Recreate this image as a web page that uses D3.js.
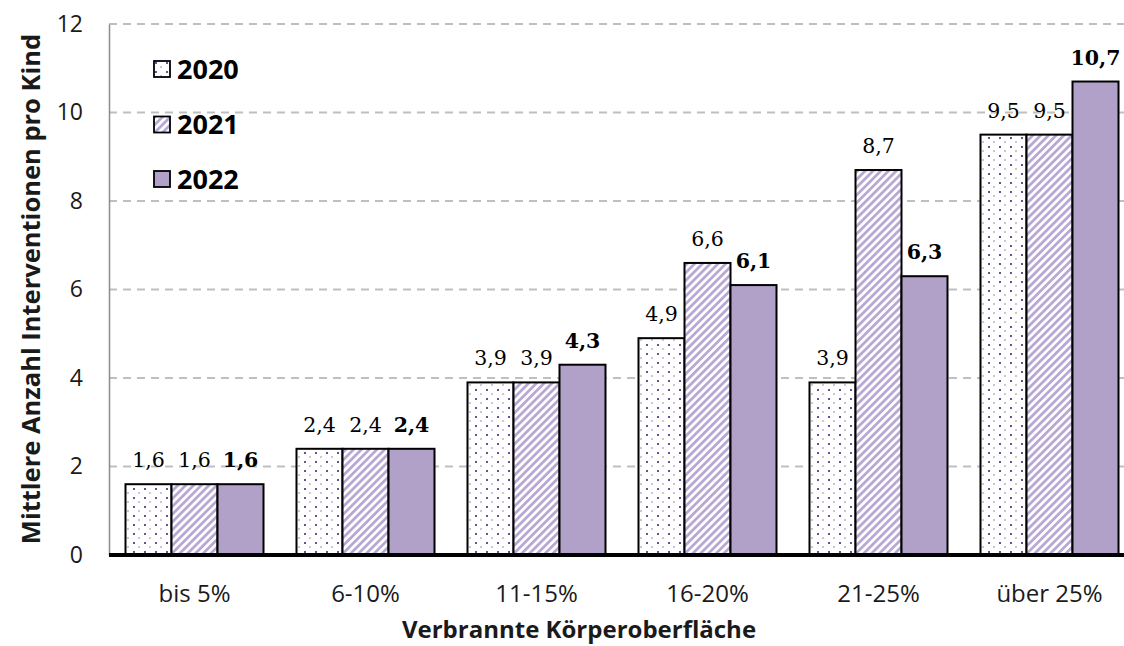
<!DOCTYPE html>
<html>
<head>
<meta charset="utf-8">
<script src="https://cdn.jsdelivr.net/npm/d3@7"></script>
<style>
  html, body { margin: 0; padding: 0; background: #fff; }
  svg { display: block; }
</style>
</head>
<body>
<svg id="chart" width="1124" height="646"></svg>
<script>
// Kategorien: verbrannte Körperoberfläche
const categories = ["bis 5%", "6-10%", "11-15%", "16-20%", "21-25%", "über 25%"];
const years = ["2020", "2021", "2022"];
// Mittlere Anzahl Interventionen pro Kind
const values2020 = [1.6, 2.4, 3.9, 4.9, 3.9, 9.5];
const values2021 = [1.6, 2.4, 3.9, 6.6, 8.7, 9.5];
const values2022 = [1.6, 2.4, 4.3, 6.1, 6.3, 10.7];
const yTicks = [0, 2, 4, 6, 8, 10, 12];

const seriesValues = [values2020, values2021, values2022];
const fmt = v => String(v).replace(".", ",");

const svg = d3.select("#chart");
const W = 1124, H = 646;
const left = 109, baseY = 555, topY = 24;

const sans = "'Open Sans', sans-serif";
const serif = "'DejaVu Serif', serif";

// Füllmuster
const defs = svg.append("defs");
const dots = defs.append("pattern")
  .attr("id", "pat2020").attr("patternUnits", "userSpaceOnUse")
  .attr("width", 11).attr("height", 9);
dots.append("rect").attr("width", 11).attr("height", 9).attr("fill", "#fff");
dots.append("rect").attr("x", 2).attr("y", 2).attr("width", 2).attr("height", 2).attr("fill", "#6a4f92");
dots.append("rect").attr("x", 7).attr("y", 6.5).attr("width", 2).attr("height", 1).attr("fill", "#9a88bb");

const stripes = defs.append("pattern")
  .attr("id", "pat2021").attr("patternUnits", "userSpaceOnUse")
  .attr("width", 5.5).attr("height", 5.5)
  .attr("patternTransform", "rotate(45)");
stripes.append("rect").attr("width", 5.5).attr("height", 5.5).attr("fill", "#fff");
stripes.append("rect").attr("width", 2.8).attr("height", 5.5).attr("fill", "#b8a8d4");

const fills = ["url(#pat2020)", "url(#pat2021)", "#b1a0c7"];

// Skalen
const x = d3.scaleBand().domain(categories).range([left, left + 6 * 171]).padding(0);
const xs = d3.scaleBand().domain(years).range([16.5, 171 - 16.5]).padding(0);
const y = d3.scaleLinear().domain([0, 12]).range([baseY, topY]);

// Gitterlinien
svg.append("g").selectAll("line").data(yTicks.filter(t => t > 0)).join("line")
  .attr("x1", left).attr("x2", W)
  .attr("y1", d => y(d)).attr("y2", d => y(d))
  .attr("stroke", "#bfbfbf").attr("stroke-width", 2)
  .attr("stroke-dasharray", "8,6");

// y-Achse
const yAxis = d3.axisLeft(y).tickValues(yTicks).tickSize(0).tickPadding(26).tickFormat(d3.format("d"));
const gy = svg.append("g").attr("transform", `translate(${left},0)`).call(yAxis);
gy.select(".domain").attr("stroke", "#8c8c8c").attr("stroke-width", 1.5);
gy.selectAll("text").attr("font-family", sans).attr("font-size", 23).attr("fill", "#1a1a1a");

// Balken
const groups = svg.append("g").selectAll("g").data(categories).join("g")
  .attr("transform", d => `translate(${x(d)},0)`);

groups.each(function(cat, ci) {
  const g = d3.select(this);
  years.forEach((yr, si) => {
    const v = seriesValues[si][ci];
    g.append("rect")
      .attr("x", xs(yr)).attr("width", xs.bandwidth())
      .attr("y", y(v)).attr("height", baseY - y(v))
      .attr("fill", fills[si]).attr("stroke", "#000").attr("stroke-width", 2);
    g.append("text")
      .attr("x", xs(yr) + xs.bandwidth() / 2)
      .attr("y", y(v) - 17)
      .attr("text-anchor", "middle")
      .attr("font-family", serif)
      .attr("font-size", 20.5)
      .attr("font-weight", si === 2 ? "bold" : "normal")
      .attr("fill", "#000")
      .text(fmt(v));
  });
});

// x-Achse
const xAxis = d3.axisBottom(x).tickSize(0).tickPadding(0);
const gx = svg.append("g").attr("transform", `translate(0,${baseY})`).call(xAxis);
gx.select(".domain").remove();
gx.selectAll("text").attr("font-family", sans).attr("font-size", 24).attr("fill", "#1a1a1a")
  .attr("dy", 0).attr("y", 47);
svg.append("line").attr("x1", left).attr("x2", W).attr("y1", baseY).attr("y2", baseY)
  .attr("stroke", "#000").attr("stroke-width", 4);

// Achsentitel
svg.append("text")
  .attr("x", 579).attr("y", 638).attr("text-anchor", "middle")
  .attr("font-family", sans).attr("font-weight", "bold").attr("font-size", 24)
  .attr("fill", "#1a1a1a").text("Verbrannte Körperoberfläche");
svg.append("text")
  .attr("transform", "translate(40,289) rotate(-90)").attr("text-anchor", "middle")
  .attr("font-family", sans).attr("font-weight", "bold").attr("font-size", 25.5)
  .attr("fill", "#1a1a1a").text("Mittlere Anzahl Interventionen pro Kind");

// Legende
const legendY = [69, 124.5, 179];
const legend = svg.append("g").selectAll("g").data(years).join("g")
  .attr("transform", (d, i) => `translate(153,${legendY[i]})`);
legend.append("rect").attr("x", 1).attr("y", -8).attr("width", 16).attr("height", 16)
  .attr("fill", (d, i) => fills[i]).attr("stroke", "#000").attr("stroke-width", 1.8);
legend.append("text").attr("x", 24).attr("y", 9.5)
  .attr("font-family", sans).attr("font-weight", "bold").attr("font-size", 27)
  .attr("fill", "#000").text(d => d);
</script>
</body>
</html>
